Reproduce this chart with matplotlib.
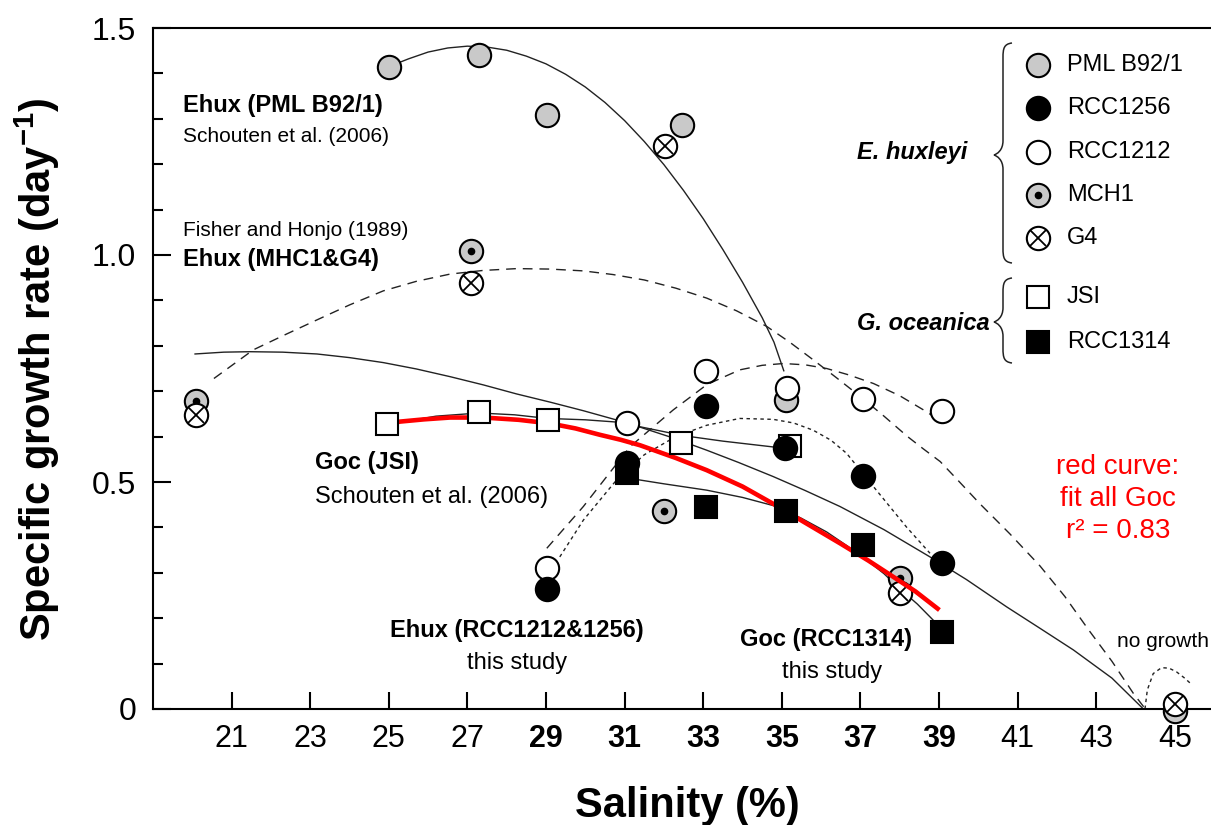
import matplotlib
matplotlib.use("Agg")
import matplotlib.pyplot as plt
from matplotlib.path import Path
from matplotlib.patches import PathPatch
from matplotlib.ticker import MultipleLocator

plt.rcParams['font.family'] = ['Liberation Sans', 'DejaVu Sans']
plt.rcParams['mathtext.fontset'] = 'custom'
plt.rcParams['mathtext.rm'] = 'Liberation Sans'
plt.rcParams['mathtext.bf'] = 'Liberation Sans:bold'

# Data points (salinity, growth rate per day)
pml_x = [25.0, 27.3, 29.03, 32.45, 35.1]
pml_y = [1.415, 1.440, 1.308, 1.286, 0.681]
mch1_x = [20.1, 27.1, 32.0, 38.0, 45.0]
mch1_y = [0.678, 1.009, 0.437, 0.288, -0.005]
g4_x = [20.1, 27.1, 32.04, 38.0, 45.0]
g4_y = [0.648, 0.938, 1.239, 0.255, 0.010]
rcc1212_x = [29.03, 31.07, 33.06, 35.12, 37.06, 39.08]
rcc1212_y = [0.311, 0.631, 0.745, 0.706, 0.683, 0.657]
rcc1256_x = [29.03, 31.05, 33.06, 35.08, 37.06, 39.08]
rcc1256_y = [0.265, 0.541, 0.667, 0.574, 0.514, 0.321]
jsi_x = [24.96, 27.3, 29.04, 32.44, 35.2]
jsi_y = [0.627, 0.655, 0.637, 0.585, 0.579]
rcc1314_x = [31.07, 33.06, 35.1, 37.06, 39.08]
rcc1314_y = [0.519, 0.446, 0.436, 0.361, 0.170]

# Fitted curves
pml_fit_x = [25.0, 25.5, 26.0, 26.5, 27.0, 27.5, 28.0, 28.5, 29.0, 29.5, 30.0, 30.5, 31.0,
             31.5, 32.0, 32.5, 33.0, 33.5, 34.0, 34.5, 34.8, 35.05]
pml_fit_y = [1.415, 1.432, 1.447, 1.456, 1.460, 1.458, 1.451, 1.438, 1.421, 1.398, 1.370, 1.336, 1.296,
             1.250, 1.199, 1.142, 1.080, 1.012, 0.940, 0.862, 0.808, 0.745]
mg_fit_x = [20.55, 21.55, 22.4, 23.17, 24.0, 24.86, 25.7, 26.56, 27.4, 28.25, 29.1, 29.95, 30.7, 31.5,
            32.3, 33.09, 33.85, 34.61, 35.2, 35.8, 36.4, 37.0, 37.6, 38.2, 38.6, 39.03, 39.5, 40.04,
            40.8, 41.57, 42.2, 42.8, 43.4, 43.94, 44.25]
mg_fit_y = [0.728, 0.791, 0.826, 0.857, 0.890, 0.921, 0.942, 0.958, 0.966, 0.970, 0.969, 0.965, 0.957, 0.945,
            0.927, 0.905, 0.877, 0.843, 0.808, 0.769, 0.729, 0.688, 0.645, 0.600, 0.573, 0.545, 0.502, 0.452,
            0.386, 0.315, 0.248, 0.175, 0.105, 0.035, 0.0]
all_fit_x = [20.07, 20.8, 21.47, 22.3, 23.17, 24.0, 24.86, 25.7, 26.56, 27.4, 28.25, 29.1, 29.95, 31.07,
             32.2, 33.09, 33.9, 34.78, 35.6, 36.48, 37.6, 38.77, 39.7, 40.72, 41.6, 42.42, 43.4, 44.2]
all_fit_y = [0.782, 0.786, 0.787, 0.786, 0.782, 0.774, 0.763, 0.749, 0.732, 0.714, 0.694, 0.676, 0.657, 0.630,
             0.598, 0.570, 0.543, 0.512, 0.481, 0.446, 0.395, 0.335, 0.285, 0.225, 0.176, 0.130, 0.068, 0.0]
jsi_fit_x = [25.0, 26.2, 27.3, 28.2, 29.04, 30.0, 30.8, 31.6, 32.5, 33.5, 34.9, 35.2]
jsi_fit_y = [0.627, 0.645, 0.652, 0.648, 0.640, 0.637, 0.632, 0.618, 0.602, 0.590, 0.576, 0.574]
r1314_fit_x = [31.2, 32.0, 33.09, 34.0, 34.87, 35.5, 36.14, 36.65, 37.16, 37.6, 38.0, 38.45, 38.86, 39.05]
r1314_fit_y = [0.507, 0.496, 0.482, 0.466, 0.446, 0.420, 0.390, 0.360, 0.328, 0.298, 0.265, 0.231, 0.195, 0.178]
goc_fit_x = [25.0, 25.28, 25.9, 26.56, 27.41, 28.3, 29.1, 29.75, 30.37, 30.9, 31.39, 32.3, 33.09, 34.0,
             34.78, 35.6, 36.48, 37.2, 37.75, 38.4, 39.01]
goc_fit_y = [0.627, 0.633, 0.638, 0.642, 0.642, 0.637, 0.629, 0.618, 0.604, 0.593, 0.581, 0.553, 0.526, 0.490,
             0.452, 0.410, 0.365, 0.327, 0.296, 0.259, 0.218]
r1212_fit_x = [29.02, 29.95, 31.14, 32.24, 33.1, 33.93, 34.5, 35.04, 35.6, 36.14, 36.7, 37.33, 38.0, 38.6, 38.85]
r1212_fit_y = [0.354, 0.446, 0.578, 0.659, 0.715, 0.747, 0.757, 0.761, 0.758, 0.750, 0.736, 0.717, 0.690, 0.659, 0.645]
r1256_fit_x = [29.35, 29.95, 30.8, 31.5, 32.3, 33.09, 33.93, 34.78, 35.3, 35.8, 36.25, 36.65, 37.33, 38.17, 38.77]
r1256_fit_y = [0.335, 0.416, 0.505, 0.560, 0.600, 0.625, 0.640, 0.638, 0.630, 0.614, 0.592, 0.563, 0.490, 0.401, 0.343]
nogrowth_x = [44.24, 44.3, 44.45, 44.66, 44.85, 45.04, 45.25, 45.39]
nogrowth_y = [0.0, 0.042, 0.078, 0.091, 0.090, 0.082, 0.068, 0.057]

xticks = [21, 23, 25, 27, 29, 31, 33, 35, 37, 39, 41, 43, 45]
bold_ticks = [29, 31, 33, 35, 37, 39]

W, H = 1211, 825
GRAY = '#c9c9c9'
MS = 16.8

fig = plt.figure(figsize=(W / 100, H / 100), dpi=100)
ax = fig.add_axes([153 / W, 1 - 709 / H, 1 - 153 / W, (709 - 28) / H])
ax.set_xlim(19, 45.92)
ax.set_ylim(0, 1.5)

# curves
thin = dict(color='#222222', lw=1.0, zorder=2, clip_on=False)
ax.plot(pml_fit_x, pml_fit_y, **thin)
ax.plot(all_fit_x, all_fit_y, **thin)
ax.plot(jsi_fit_x, jsi_fit_y, **thin)
ax.plot(r1314_fit_x, r1314_fit_y, **thin)
ax.plot(mg_fit_x, mg_fit_y, dashes=(7, 5), **thin)
ax.plot(r1212_fit_x, r1212_fit_y, dashes=(7, 5), **thin)
ax.plot(r1256_fit_x, r1256_fit_y, dashes=(2.5, 2.5), **thin)
ax.plot(nogrowth_x, nogrowth_y, dashes=(2.5, 2.5), **thin)


def circles(x, y, face, z, trans=None):
    kw = dict(ms=MS, mfc=face, mec='black', mew=1.5, ls='none', zorder=z, clip_on=False)
    if trans is not None:
        kw['transform'] = trans
    ax.plot(x, y, 'o', **kw)


def mch1(x, y, z, trans=None):
    circles(x, y, GRAY, z, trans)
    kw = dict(ms=4.5, mfc='black', mec='black', ls='none', zorder=z, clip_on=False)
    if trans is not None:
        kw['transform'] = trans
    ax.plot(x, y, 'o', **kw)


def g4(x, y, z, trans=None):
    circles(x, y, 'white', z, trans)
    kw = dict(ms=MS * 0.72, mec='black', mew=1.3, ls='none', zorder=z, clip_on=False)
    if trans is not None:
        kw['transform'] = trans
    ax.plot(x, y, 'x', **kw)


def squares(x, y, face, z, trans=None):
    kw = dict(ms=MS - 0.5, mfc=face, mec='black', mew=1.5, ls='none', zorder=z, clip_on=False)
    if trans is not None:
        kw['transform'] = trans
    ax.plot(x, y, 's', **kw)


# markers
circles(pml_x, pml_y, GRAY, 4)
mch1(mch1_x, mch1_y, 3)
g4(g4_x, g4_y, 3.2)
# red fit over the small markers at 38 but under the squares
ax.plot(goc_fit_x, goc_fit_y, color='#ff0000', lw=3.3, zorder=3.5, solid_capstyle='butt')
squares(jsi_x, jsi_y, 'white', 4)
squares(rcc1314_x, rcc1314_y, 'black', 4)
circles(rcc1212_x, rcc1212_y, 'white', 4.5)
circles(rcc1256_x, rcc1256_y, 'black', 5)

# axes styling
ax.spines['right'].set_visible(False)
for s in ['left', 'bottom', 'top']:
    ax.spines[s].set_linewidth(1.5)
ax.set_xticks(xticks)
ax.set_xticklabels([str(t) for t in xticks], fontsize=22)
for lab, t in zip(ax.get_xticklabels(), xticks):
    if t in bold_ticks:
        lab.set_fontweight('bold')
ax.set_yticks([0, 0.5, 1.0, 1.5])
ax.set_yticklabels(['0', '0.5', '1.0', '1.5'], fontsize=23)
ax.yaxis.set_minor_locator(MultipleLocator(0.1))
ax.tick_params(axis='x', which='major', direction='in', length=12, width=1.5, pad=11, top=False)
ax.tick_params(axis='y', which='major', direction='in', length=13, width=1.5, pad=12, right=False)
ax.tick_params(axis='y', which='minor', direction='in', length=7.5, width=1.5, right=False)
ax.tick_params(axis='x', which='minor', bottom=False, top=False)

fig.text(687 / W, 1 - 806 / H, 'Salinity (%)', fontsize=30, fontweight='bold', ha='center', va='center')
fig.text(37 / W, 1 - 369 / H, r'Specific growth rate (day$^{\mathbf{-1}}$)', fontsize=30,
         fontweight='bold', rotation=90, ha='center', va='center')

# annotations
ax.text(19.76, 1.330, 'Ehux (PML B92/1)', fontsize=17, fontweight='bold', va='center')
ax.text(19.76, 1.260, 'Schouten et al. (2006)', fontsize=15, va='center')
ax.text(19.76, 1.055, 'Fisher and Honjo (1989)', fontsize=15, va='center')
ax.text(19.76, 0.989, 'Ehux (MHC1&G4)', fontsize=17, fontweight='bold', va='center')
ax.text(23.12, 0.542, 'Goc (JSI)', fontsize=17, fontweight='bold', va='center')
ax.text(23.12, 0.467, 'Schouten et al. (2006)', fontsize=17, va='center')
ax.text(28.26, 0.174, 'Ehux (RCC1212&1256)', fontsize=17, fontweight='bold', ha='center', va='center')
ax.text(28.26, 0.101, 'this study', fontsize=17, ha='center', va='center')
ax.text(36.12, 0.152, 'Goc (RCC1314)', fontsize=17, fontweight='bold', ha='center', va='center')
ax.text(36.28, 0.081, 'this study', fontsize=17, ha='center', va='center')
ax.text(44.69, 0.148, 'no growth', fontsize=15, ha='center', va='center')
ax.text(43.55, 0.462, 'red curve:\nfit all Goc\nr\u00b2 = 0.83', fontsize=20, color='#ff0000',
        ha='center', va='center', linespacing=1.3)

# legend, drawn by hand in figure pixels
ft = fig.transFigure
leg_rows = [65, 108, 152, 195, 238, 297, 342]
leg_names = ['PML B92/1', 'RCC1256', 'RCC1212', 'MCH1', 'G4', 'JSI', 'RCC1314']
mx = 1038 / W
circles([mx], [1 - leg_rows[0] / H], GRAY, 6, ft)
circles([mx], [1 - leg_rows[1] / H], 'black', 6, ft)
circles([mx], [1 - leg_rows[2] / H], 'white', 6, ft)
mch1([mx], [1 - leg_rows[3] / H], 6, ft)
g4([mx], [1 - leg_rows[4] / H], 6, ft)
squares([mx], [1 - leg_rows[5] / H], 'white', 6, ft)
squares([mx], [1 - leg_rows[6] / H], 'black', 6, ft)
for name, py in zip(leg_names, leg_rows):
    fig.text(1067 / W, 1 - py / H, name, fontsize=17, va='center', ha='left')
fig.text(857 / W, 1 - 152 / H, 'E. huxleyi', fontsize=17, fontweight='bold', style='italic', va='center')
fig.text(857 / W, 1 - 323 / H, 'G. oceanica', fontsize=17, fontweight='bold', style='italic', va='center')


def brace(y_top, y_mid, y_bot, x_end=1012, x_sp=1003, x_tip=994, c=9):
    pts = [(x_end, y_top),
           (x_sp + 1, y_top + 1), (x_sp, y_top + c * 0.6), (x_sp, y_top + c * 1.6),
           (x_sp, y_mid - c * 1.6),
           (x_sp, y_mid - c * 0.5), (x_tip + 3, y_mid - 1), (x_tip, y_mid),
           (x_tip + 3, y_mid + 1), (x_sp, y_mid + c * 0.5), (x_sp, y_mid + c * 1.6),
           (x_sp, y_bot - c * 1.6),
           (x_sp, y_bot - c * 0.6), (x_sp + 1, y_bot - 1), (x_end, y_bot)]
    codes = [Path.MOVETO, Path.CURVE4, Path.CURVE4, Path.CURVE4, Path.LINETO,
             Path.CURVE4, Path.CURVE4, Path.CURVE4, Path.CURVE4, Path.CURVE4, Path.CURVE4,
             Path.LINETO, Path.CURVE4, Path.CURVE4, Path.CURVE4]
    verts = [(px / W, 1 - py / H) for px, py in pts]
    fig.add_artist(PathPatch(Path(verts, codes), fill=False, lw=1.1, color='#222222', transform=ft))


brace(43, 155, 263)
brace(278, 322, 363)

fig.savefig('out.png', dpi=100)
